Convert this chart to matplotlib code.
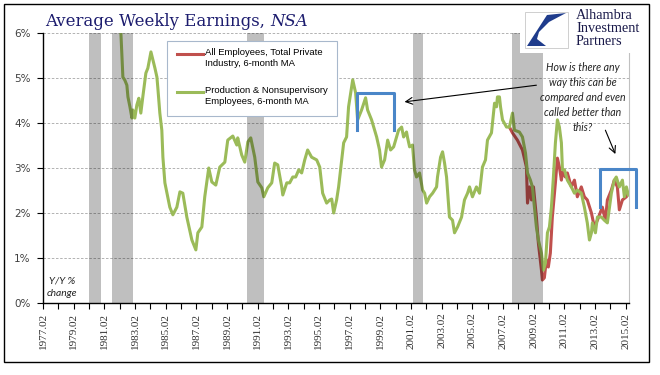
import matplotlib
matplotlib.use("Agg")
import matplotlib.pyplot as plt
from matplotlib.patches import Rectangle, Polygon

# production & nonsupervisory employees, 6-month MA of y/y % change
green_years = [1977.08, 1977.6, 1978.1, 1978.6, 1979.1, 1979.6, 1980.1, 1980.6, 1981.1, 1981.6,
               1981.9, 1982.16, 1982.29, 1982.42, 1982.55, 1982.62, 1982.75, 1982.88, 1982.94, 1983.07,
               1983.2, 1983.33, 1983.46, 1983.59, 1983.79, 1983.92, 1984.12, 1984.25, 1984.38, 1984.51,
               1984.57, 1984.7, 1984.83, 1984.9, 1985.03, 1985.35, 1985.55, 1985.81, 1986.01, 1986.2,
               1986.46, 1986.79, 1987.05, 1987.18, 1987.44, 1987.63, 1987.89, 1988.09, 1988.35, 1988.61,
               1988.94, 1989.13, 1989.46, 1989.72, 1989.78, 1990.04, 1990.24, 1990.44, 1990.63, 1990.89,
               1991.09, 1991.35, 1991.48, 1991.74, 1992.0, 1992.19, 1992.39, 1992.65, 1992.72, 1992.98,
               1993.17, 1993.37, 1993.56, 1993.76, 1993.95, 1994.15, 1994.34, 1994.6, 1994.93, 1995.13,
               1995.32, 1995.58, 1995.78, 1995.91, 1996.04, 1996.23, 1996.36, 1996.56, 1996.69, 1996.88,
               1997.01, 1997.21, 1997.28, 1997.47, 1997.6, 1997.86, 1998.12, 1998.25, 1998.51, 1998.71,
               1998.84, 1999.03, 1999.16, 1999.36, 1999.56, 1999.75, 1999.95, 2000.08, 2000.27, 2000.47,
               2000.6, 2000.79, 2000.86, 2000.99, 2001.18, 2001.31, 2001.44, 2001.64, 2001.84, 2001.97,
               2002.1, 2002.29, 2002.49, 2002.75, 2002.81, 2003.01, 2003.14, 2003.27, 2003.4, 2003.59,
               2003.79, 2003.92, 2004.12, 2004.38, 2004.57, 2004.77, 2004.9, 2005.09, 2005.35, 2005.55,
               2005.74, 2005.94, 2006.07, 2006.33, 2006.53, 2006.66, 2006.72, 2006.85, 2006.92, 2007.05,
               2007.31, 2007.5, 2007.7, 2007.83, 2008.15, 2008.35, 2008.55, 2008.68, 2008.87, 2009.0,
               2009.13, 2009.26, 2009.39, 2009.59, 2009.72, 2009.85, 2009.98, 2010.11, 2010.24, 2010.37,
               2010.5, 2010.63, 2010.76, 2010.89, 2010.96, 2011.09, 2011.28, 2011.54, 2011.74, 2011.93,
               2012.19, 2012.39, 2012.58, 2012.72, 2012.85, 2012.91, 2013.11, 2013.24, 2013.5, 2013.69,
               2013.89, 2014.15, 2014.34, 2014.47, 2014.67, 2014.87, 2015.0, 2015.13, 2015.26]
green_vals = [7.2, 7.6, 7.9, 8.2, 8.0, 8.1, 8.6, 9.0, 8.8, 8.4,
              7.3, 6.0, 5.02, 4.95, 4.84, 4.58, 4.36, 4.11, 4.29, 4.11,
              4.4, 4.55, 4.22, 4.58, 5.11, 5.22, 5.58, 5.40, 5.22, 5.02,
              4.78, 4.22, 3.84, 3.24, 2.67, 2.13, 1.96, 2.13, 2.47, 2.44,
              1.91, 1.40, 1.18, 1.56, 1.69, 2.36, 3.0, 2.69, 2.62, 3.02,
              3.13, 3.62, 3.71, 3.51, 3.67, 3.29, 3.13, 3.58, 3.67, 3.24,
              2.69, 2.56, 2.36, 2.56, 2.67, 3.11, 3.07, 2.58, 2.40, 2.67,
              2.67, 2.80, 2.80, 2.96, 2.89, 3.18, 3.40, 3.24, 3.18, 3.02,
              2.44, 2.22, 2.29, 2.31, 2.0, 2.29, 2.58, 3.18, 3.56, 3.69,
              4.36, 4.80, 4.96, 4.67, 4.07, 4.29, 4.56, 4.29, 4.07, 3.84,
              3.69, 3.40, 3.02, 3.18, 3.62, 3.40, 3.47, 3.62, 3.84, 3.91,
              3.69, 3.80, 3.67, 3.47, 3.51, 2.96, 2.80, 2.89, 2.51, 2.44,
              2.22, 2.36, 2.44, 2.58, 2.80, 3.24, 3.36, 3.11, 2.80, 1.91,
              1.84, 1.56, 1.69, 1.91, 2.29, 2.44, 2.58, 2.36, 2.58, 2.44,
              3.02, 3.18, 3.62, 3.78, 4.44, 4.36, 4.58, 4.58, 4.36, 4.07,
              3.91, 3.91, 4.22, 3.84, 3.80, 3.69, 3.33, 2.89, 2.73, 2.58,
              2.13, 1.69, 1.40, 1.11, 0.73, 0.89, 1.56, 1.69, 2.13, 2.80,
              3.56, 4.07, 3.91, 3.56, 2.96, 2.96, 2.73, 2.58, 2.44, 2.51,
              2.44, 2.13, 1.78, 1.40, 1.56, 1.78, 1.56, 1.91, 1.91, 1.84,
              1.78, 2.44, 2.73, 2.80, 2.58, 2.73, 2.36, 2.58, 2.40]

# all employees, total private, 6-month MA
red_years = [2007.5, 2007.7, 2008.02, 2008.35, 2008.61, 2008.68, 2008.81, 2008.94, 2009.07, 2009.26,
             2009.39, 2009.59, 2009.65, 2009.78, 2009.91, 2010.04, 2010.17, 2010.3, 2010.5, 2010.63,
             2010.76, 2010.89, 2010.96, 2011.15, 2011.28, 2011.54, 2011.74, 2011.93, 2012.19, 2012.39,
             2012.58, 2012.85, 2013.04, 2013.24, 2013.56, 2013.76, 2013.89, 2014.15, 2014.34, 2014.54,
             2014.67, 2014.87, 2015.13, 2015.26]
red_vals = [3.91, 3.78, 3.62, 3.40, 3.02, 2.22, 2.58, 2.29, 2.58, 1.91,
            1.33, 0.73, 0.51, 0.56, 0.96, 0.80, 1.11, 1.91, 2.67, 3.22,
            3.02, 2.73, 2.91, 2.80, 2.89, 2.58, 2.73, 2.36, 2.58, 2.36,
            2.29, 2.0, 1.69, 1.84, 2.13, 1.84, 2.29, 2.51, 2.73, 2.58,
            2.07, 2.29, 2.36, 2.44]

recessions = [(1980.08, 1980.86), (1981.58, 1982.95), (1990.37, 1991.48),
              (2001.18, 2001.84), (2007.70, 2009.66)]

tick_years = list(range(1977, 2016, 2))
y_ticks = [0, 1, 2, 3, 4, 5, 6]

GREEN = "#9bbb59"
RED = "#c0504d"
BLUE = "#4a86c8"
NAVY = "#1c1c6e"

fig = plt.figure(figsize=(6.6, 3.75), dpi=100)
ax = fig.add_axes([43 / 660, 1 - 303 / 375, (629 - 43) / 660, (303 - 33) / 375])

ax.plot(red_years, red_vals, color=RED, lw=2.2, zorder=2, solid_joinstyle="round")
ax.plot(green_years, green_vals, color=GREEN, lw=2.2, zorder=2.1, solid_joinstyle="round")

for start, end in recessions:
    ax.axvspan(start, end, color="black", alpha=0.25, lw=0, zorder=3)

ax.set_xlim(1977.08, 2015.3)
ax.set_ylim(0, 6)
ax.set_yticks(y_ticks)
ax.set_yticklabels([f"{v}%" for v in y_ticks], fontsize=7.5, color="#404040", family="DejaVu Sans")
ax.set_xticks([y + 0.08 for y in tick_years])
ax.set_xticklabels([f"{y}.02" for y in tick_years], rotation=90, fontsize=8,
                   family="Liberation Serif", color="#303030")
ax.set_xticks([y + 1.08 for y in tick_years[:-1]], minor=True)
ax.tick_params(axis="both", which="both", direction="out", length=4, width=0.8, color="black")
ax.tick_params(axis="y", pad=5)
ax.tick_params(axis="x", pad=3)

ax.yaxis.grid(True, linestyle=(0, (3, 2)), color="#a6a6a6", lw=0.6, zorder=0)
ax.set_axisbelow(True)
ax.spines["top"].set_visible(False)
ax.spines["right"].set_color("#c0c0c0")
ax.spines["right"].set_linewidth(0.8)
ax.spines["left"].set_linewidth(1.0)
ax.spines["bottom"].set_linewidth(1.0)

# blue brackets
ax.plot([1997.54, 1997.54, 2000.0, 2000.0], [3.84, 4.67, 4.67, 3.84], color=BLUE, lw=2.2,
        solid_joinstyle="round", zorder=4)
ax.plot([2013.43, 2013.43, 2015.78, 2015.78], [2.13, 2.98, 2.98, 2.13], color=BLUE, lw=2.2,
        solid_joinstyle="round", zorder=4, clip_on=False)

# annotation
ax.annotate("", xy=(2000.66, 4.47), xytext=(2009.26, 4.84),
            arrowprops=dict(arrowstyle="->", lw=0.8, color="black", mutation_scale=12,
                            shrinkA=0, shrinkB=0), zorder=5)
ax.annotate("", xy=(2014.41, 3.31), xytext=(2013.76, 3.84),
            arrowprops=dict(arrowstyle="->", lw=0.8, color="black", mutation_scale=12,
                            shrinkA=0, shrinkB=0), zorder=5)
ax.text(2012.3, 4.57, "How is there any\nway this can be\ncompared and even\ncalled better than\nthis?",
        ha="center", va="center", fontsize=7.6, style="italic", family="Lato",
        color="#222222", linespacing=1.45, zorder=5)
ax.text(1978.3, 0.34, "Y/Y %\nchange", ha="center", va="center", fontsize=7.4, style="italic",
        family="Lato", color="#222222", linespacing=1.5, zorder=5)

# overlay in pixel coordinates for title, legend, logo and frame
ov = fig.add_axes([0, 0, 1, 1], zorder=10)
ov.set_xlim(0, 660)
ov.set_ylim(375, 0)
ov.axis("off")

ov.add_patch(Rectangle((4, 4), 645, 358, fill=False, edgecolor="black", lw=1.0))

t1 = ov.text(45, 26, "Average Weekly Earnings, ", fontsize=11.9, family="DejaVu Serif",
             color=NAVY, va="baseline")
fig.canvas.draw()
bb = t1.get_window_extent()
x_end = ov.transData.inverted().transform((bb.x1, bb.y0))[0]
ov.text(x_end, 26, "NSA", fontsize=11.9, family="DejaVu Serif", style="italic",
        color=NAVY, va="baseline")

# legend
ov.add_patch(Rectangle((167, 41), 170, 75, facecolor="white", edgecolor="#a8b8cc", lw=0.8))
ov.plot([177, 203], [54, 54], color=RED, lw=2.2)
ov.text(205, 48, "All Employees, Total Private\nIndustry, 6-month MA", fontsize=6.8,
        family="Liberation Sans", va="top", ha="left", linespacing=1.25)
ov.plot([177, 203], [92, 92], color=GREEN, lw=2.2)
ov.text(205, 86, "Production & Nonsupervisory\nEmployees, 6-month MA", fontsize=6.8,
        family="Liberation Sans", va="top", ha="left", linespacing=1.25)

# logo
ov.add_patch(Rectangle((520, 7), 127, 46, facecolor="white", edgecolor="none"))
ov.add_patch(Rectangle((525, 12), 43, 36, facecolor="white", edgecolor="#c8c8c8", lw=0.6))
ov.add_patch(Polygon([(527, 46), (547, 15), (566, 13), (549, 22), (539, 32), (537, 39),
                      (546, 46)], closed=True, facecolor="#1f3c8c", edgecolor="none"))
for i, word in enumerate(["Alhambra", "Investment", "Partners"]):
    ov.text(576, 19 + i * 13, word, fontsize=10.3, family="Liberation Serif",
            color="#1a1a4a", va="baseline")

fig.savefig("out.png", dpi=100)
